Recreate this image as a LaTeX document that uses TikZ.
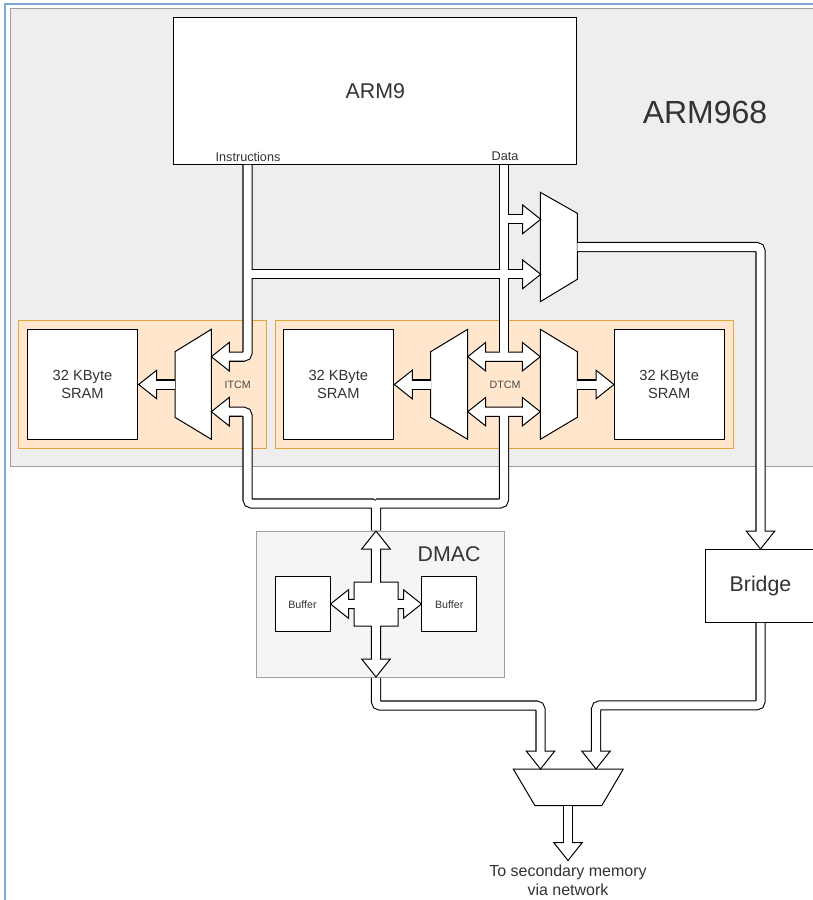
\documentclass[tikz,border=0pt]{standalone}
\usepackage{fontspec}
\setmainfont{Liberation Sans}
\usetikzlibrary{positioning}

\definecolor{armgray}{HTML}{EEEEEE}
\definecolor{edgegray}{HTML}{9E9E9E}
\definecolor{tcmfill}{HTML}{FFE6CC}
\definecolor{tcmedge}{HTML}{E3A53B}
\definecolor{dmafill}{HTML}{F4F6F5}
\definecolor{frameblue}{HTML}{7EA6D6}
\definecolor{txt}{HTML}{333333}

\begin{document}
\begin{tikzpicture}[
        x=0.75pt, y=-0.75pt,
        blk/.style={draw, fill=white, line width=0.75pt, inner sep=0pt, text=txt, align=center},
        tcm/.style={draw=tcmedge, fill=tcmfill, line width=0.75pt, inner sep=0pt},
        mux/.style={draw, fill=white, line width=0.75pt, line join=miter},
        head/.style={draw, fill=white, line width=0.75pt, line join=miter},
        lbl/.style={text=txt, inner sep=0pt, align=center},
        big/.style={font=\fontsize{16}{19}\selectfont},
        small/.style={font=\fontsize{8}{10}\selectfont}
    ]
        \useasboundingbox (0,0) rectangle (813,900);
        \clip (0,0) rectangle (813,900);
        \fill[white] (0,0) rectangle (813,900);
        \draw[frameblue, line width=1.5pt] (5,4) rectangle (830,920);

        % regions
        \node[draw=edgegray, fill=armgray, line width=0.75pt, inner sep=0pt, anchor=north west,
              minimum width=615.4pt, minimum height=343pt] (arm968) at (9.5,8.3) {};
        \node[lbl, font=\fontsize{24}{28}\selectfont] (arm968lbl) at (705,112) {ARM968};
        \node[tcm, minimum width=185.8pt, minimum height=96.2pt] (itcm) at (142.2,384.2) {};
        \node[tcm, minimum width=343.7pt, minimum height=96.2pt] (dtcm) at (504.2,384.2) {};
        \node[draw=edgegray, fill=dmafill, line width=0.75pt, inner sep=0pt,
              minimum width=185.7pt, minimum height=109.7pt] (dmac) at (380.5,604.2) {};
        \node[lbl, big] (dmaclbl) at (449,554) {DMAC};

        % blocks
        \node[blk, big, minimum width=302.5pt, minimum height=110pt] (arm9) at (375.3,91) {ARM9};
        \node[lbl, font=\fontsize{9.5}{11}\selectfont] (instr) at (248,156.5) {Instructions};
        \node[lbl, font=\fontsize{9.5}{11}\selectfont] (data) at (505,156.5) {Data};
        \node[blk, font=\fontsize{11}{13}\selectfont, minimum size=82.5pt] (sramI) at (82.5,384.3) {32 KByte\\SRAM};
        \node[blk, font=\fontsize{11}{13}\selectfont, minimum size=82.5pt] (sramL) at (338.3,384.3) {32 KByte\\SRAM};
        \node[blk, font=\fontsize{11}{13}\selectfont, minimum size=82.5pt] (sramR) at (669.2,384.3) {32 KByte\\SRAM};
        \node[blk, big, minimum width=82.5pt, minimum height=55pt] (bridge) at (760.5,585.7) {Bridge};
        \node[blk, small, minimum size=41.25pt] (bufL) at (302.5,604.2) {Buffer};
        \node[blk, small, minimum size=41.25pt] (bufR) at (449.2,604.2) {Buffer};
        \node[lbl, small, text=black!70] (itcmlbl) at (237.7,385) {ITCM};
        \node[lbl, small, text=black!70] (dtcmlbl) at (505,385.3) {DTCM};
        \node[lbl, font=\fontsize{12}{14}\selectfont] (netlbl) at (568,880) {To secondary memory\\via network};

        % multiplexers
        \draw[mux] (175,351.7) -- (211.3,329.3) -- (211.3,439.3) -- (175,417.3) -- cycle;
        \draw[mux] (430.7,351.7) -- (467.7,329.3) -- (467.7,439.3) -- (430.7,417.3) -- cycle;
        \draw[mux] (540.3,329.3) -- (577.3,351.7) -- (577.3,417.3) -- (540.3,439.3) -- cycle;
        \draw[mux] (540.3,192.3) -- (577.3,213.3) -- (577.3,279.3) -- (540.3,301.7) -- cycle;
        \draw[mux] (513.3,769) -- (623.3,769) -- (601.7,805.7) -- (535,805.7) -- cycle;

        % ports and bus junctions
        \coordinate (ibus) at (247.5,274.3);
        \coordinate (dbus) at (504,219.3);
        \coordinate (dJoin) at (376,503.5);
        \coordinate (dmaX) at (376,604);
        \coordinate (dU) at (504,356.7);
        \coordinate (dL) at (504,411.7);
        \coordinate (iOut) at (175,384.5);
        \coordinate (dOutL) at (430.7,384.5);
        \coordinate (dOutR) at (577.3,384.5);
        \coordinate (dOut) at (577.3,247);
        \coordinate (oOut) at (568,805.7);
        \coordinate (sI) at (156.7,384.5);
        \coordinate (sL) at (412.3,384.5);
        \coordinate (sR) at (596,384.5);
        \coordinate (iIn1) at (229.3,356.7);
        \coordinate (iIn2) at (229.3,411.7);
        \coordinate (dIn1) at (522.7,219.3);
        \coordinate (dIn2) at (522.7,274.3);
        \coordinate (brIn) at (760.5,531);
        \coordinate (oIn1) at (540.5,751);
        \coordinate (oIn2) at (596,751);
        \coordinate (out) at (568,842.5);

        % arrow heads
        \foreach \base/\ang in {sI/180, iIn1/180, iIn2/180, sL/180, sR/0, dIn1/0, dIn2/0,
                                brIn/270, oIn1/270, oIn2/270, out/270}
            \draw[head, shift={(\base)}, rotate=\ang] (18,0) -- (0,-14.3) -- (0,14.3) -- cycle;
        \foreach \mid in {dU, dL}
            \draw[head, shift={(\mid)}] (-36.3,0) -- (-18.3,-14.3) -- (-18.3,-4.7) -- (18.3,-4.7)
                -- (18.3,-14.3) -- (36.3,0) -- (18.3,14.3) -- (18.3,4.7) -- (-18.3,4.7)
                -- (-18.3,14.3) -- cycle;
        \draw[head, shift={(dmaX)}] (0,-73) -- (14.3,-55) -- (4.7,-55) -- (4.7,-22) -- (22,-22)
            -- (22,-4.7) -- (27.5,-4.7) -- (27.5,-14.3) -- (45.5,0) -- (27.5,14.3) -- (27.5,4.7)
            -- (22,4.7) -- (22,22) -- (4.7,22) -- (4.7,55) -- (14.3,55) -- (0,73) -- (-14.3,55)
            -- (-4.7,55) -- (-4.7,22) -- (-22,22) -- (-22,4.7) -- (-27.5,4.7) -- (-27.5,14.3)
            -- (-45.5,0) -- (-27.5,-14.3) -- (-27.5,-4.7) -- (-22,-4.7) -- (-22,-22) -- (-4.7,-22)
            -- (-4.7,-55) -- (-14.3,-55) -- cycle;

        % buses: black outline first, white body on top
        \foreach \lw/\col/\ext in {7.6pt/black/0pt, 6pt/white/-1.3pt} {
            \begin{scope}[line width=\lw, color=\col, rounded corners=3pt, shorten >=\ext]
                \draw (arm9.south -| ibus) -- (ibus |- iIn1) -- (iIn1);
                \draw (ibus) -- (dIn2);
                \draw (arm9.south -| dbus) -- ([yshift=3.5pt]dU);
                \draw (dbus) -- (dIn1);
                \draw (dmac.north -| dmaX) -- (dJoin) -- (dJoin -| ibus) -- (ibus |- iIn2) -- (iIn2);
                \draw (dJoin) -- (dJoin -| dbus) -- ([yshift=-3.5pt]dL);
                \draw (dmac.south -| dmaX) -- ++(0,27.7) -| (oIn1);
                \draw (bridge.south) -- ++(0,82.5) -| (oIn2);
                \draw (dOut) -| (brIn);
                \draw (oOut) -- (out);
                \draw (iOut) -- (sI);
                \draw (dOutL) -- (sL);
                \draw (dOutR) -- (sR);
            \end{scope}
        }
    \end{tikzpicture}
\end{document}
